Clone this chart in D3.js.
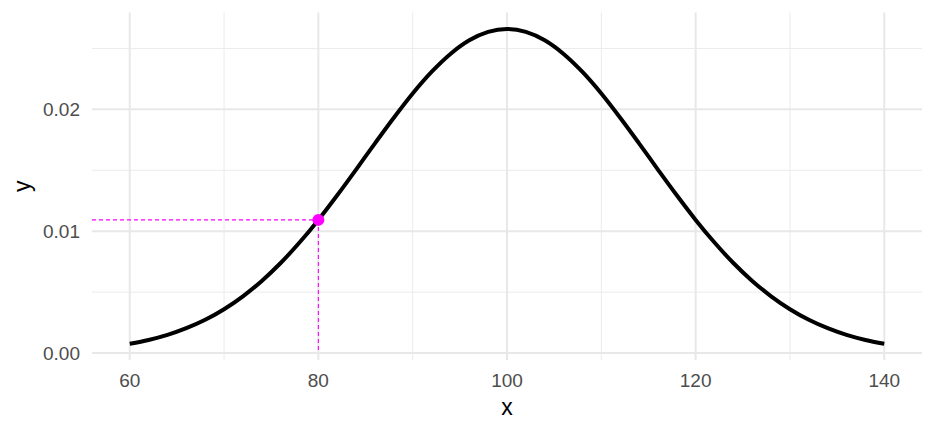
<!DOCTYPE html>
<html>
<head>
<meta charset="utf-8">
<script src="https://cdn.jsdelivr.net/npm/d3@7"></script>
<style>
  body { margin: 0; background: #fff; }
  text { font-family: "Liberation Sans", Arial, sans-serif; }
</style>
</head>
<body>
<svg width="936" height="432"></svg>
<script>
// density curve
const xs = [60, 62, 64, 66, 68, 70, 72, 74, 76, 78, 80, 82, 84, 86, 88, 90, 92, 94, 96, 98, 100,
            102, 104, 106, 108, 110, 112, 114, 116, 118, 120, 122, 124, 126, 128, 130, 132, 134, 136, 138, 140]
const ys = [0.00076, 0.00107, 0.00149, 0.00204, 0.00273, 0.00360, 0.00466, 0.00592, 0.00739, 0.00907,
            0.01093, 0.01295, 0.01506, 0.01721, 0.01931, 0.02130, 0.02307, 0.02455, 0.02567, 0.02636,
            0.02660,
            0.02636, 0.02567, 0.02455, 0.02307, 0.02130, 0.01931, 0.01721, 0.01506, 0.01295, 0.01093,
            0.00907, 0.00739, 0.00592, 0.00466, 0.00360, 0.00273, 0.00204, 0.00149, 0.00107, 0.00076]

const markX = 80
const markY = 0.01093

const xTicks = [60, 80, 100, 120, 140]
const xMinor = [70, 90, 110, 130]
const yTicks = [0, 0.01, 0.02]
const yMinor = [0.005, 0.015, 0.025]

let svg = d3.select("svg")
let panel = {left: 92, right: 922, top: 12.5, bottom: 360}

let x = d3.scaleLinear().domain([56, 144]).range([panel.left, panel.right])
let y = d3.scaleLinear().domain([-0.00057, 0.02795]).range([panel.bottom, panel.top])

let grid = svg.append("g")
grid.selectAll(".vminor").data(xMinor).enter().append("line")
    .attr("x1", d => x(d)).attr("x2", d => x(d))
    .attr("y1", panel.top).attr("y2", panel.bottom)
    .attr("stroke", "#ebebeb").attr("stroke-width", 1)
grid.selectAll(".hminor").data(yMinor).enter().append("line")
    .attr("x1", panel.left).attr("x2", panel.right)
    .attr("y1", d => y(d)).attr("y2", d => y(d))
    .attr("stroke", "#ebebeb").attr("stroke-width", 1)
grid.selectAll(".vmajor").data(xTicks).enter().append("line")
    .attr("x1", d => x(d)).attr("x2", d => x(d))
    .attr("y1", panel.top).attr("y2", panel.bottom)
    .attr("stroke", "#e8e8e8").attr("stroke-width", 2)
grid.selectAll(".hmajor").data(yTicks).enter().append("line")
    .attr("x1", panel.left).attr("x2", panel.right)
    .attr("y1", d => y(d)).attr("y2", d => y(d))
    .attr("stroke", "#e8e8e8").attr("stroke-width", 2)

// tick labels
svg.append("g").selectAll("text").data(xTicks).enter().append("text")
    .attr("x", d => x(d)).attr("y", 387)
    .attr("text-anchor", "middle")
    .attr("font-size", 19).attr("fill", "#4d4d4d")
    .text(d => d)
svg.append("g").selectAll("text").data(yTicks).enter().append("text")
    .attr("x", 80).attr("y", d => y(d) + 7)
    .attr("text-anchor", "end")
    .attr("font-size", 19).attr("fill", "#4d4d4d")
    .text(d => d3.format(".2f")(d))

// axis titles
svg.append("text")
    .attr("x", (panel.left + panel.right) / 2).attr("y", 415)
    .attr("text-anchor", "middle").attr("font-size", 23)
    .text("x")
svg.append("text")
    .attr("transform", "translate(30," + ((panel.top + panel.bottom) / 2) + ") rotate(-90)")
    .attr("text-anchor", "middle").attr("font-size", 23)
    .text("y")

// curve
let line = d3.line()
    .x((d, i) => x(xs[i]))
    .y(d => y(d))
    .curve(d3.curveMonotoneX)

svg.append("path")
    .datum(ys)
    .attr("d", line)
    .attr("fill", "none")
    .attr("stroke", "#000")
    .attr("stroke-width", 4)

// guide lines to the marked point
svg.append("line")
    .attr("x1", panel.left).attr("x2", x(markX))
    .attr("y1", y(markY)).attr("y2", y(markY))
    .attr("stroke", "#ff00ff").attr("stroke-width", 1.1)
    .attr("stroke-dasharray", "4,3")
svg.append("line")
    .attr("x1", x(markX)).attr("x2", x(markX))
    .attr("y1", y(markY)).attr("y2", y(0))
    .attr("stroke", "#ff00ff").attr("stroke-width", 1.1)
    .attr("stroke-dasharray", "4,3")

svg.append("circle")
    .attr("cx", x(markX)).attr("cy", y(markY))
    .attr("r", 6)
    .attr("fill", "#ff00ff")
</script>
</body>
</html>
